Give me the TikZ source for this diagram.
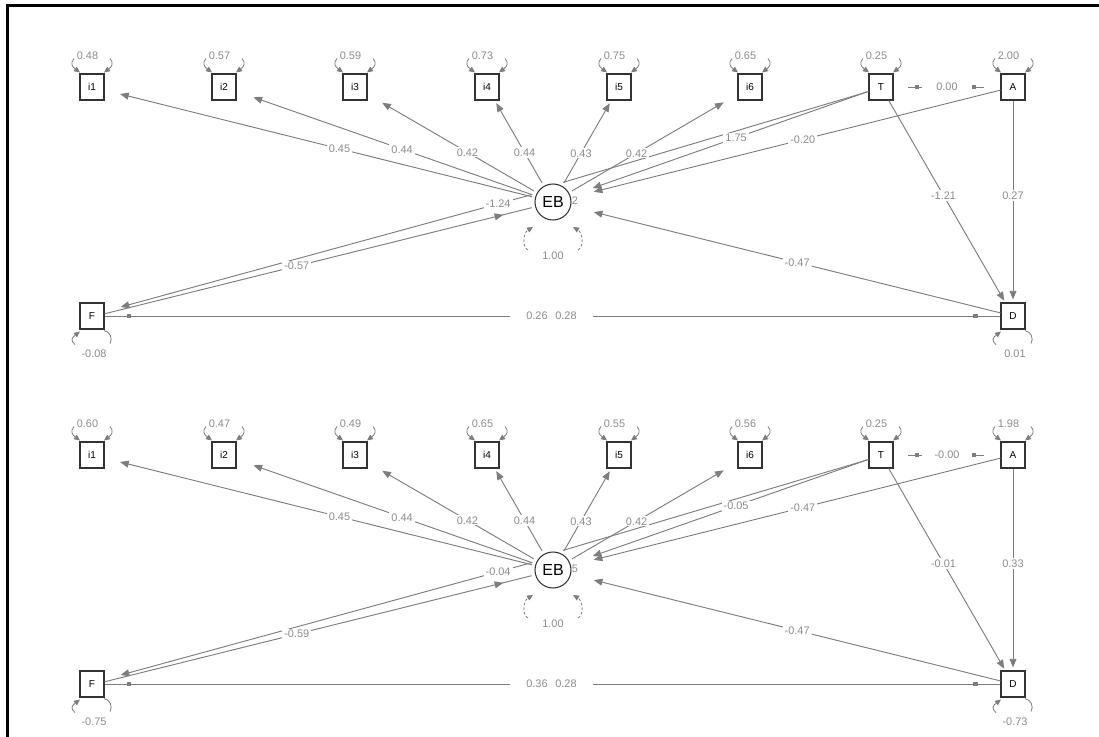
\documentclass[tikz,border=0pt]{standalone}
\usepackage{fontspec}
\setmainfont{Liberation Sans}
\usetikzlibrary{arrows.meta,decorations.markings,calc}
\definecolor{edgegray}{RGB}{125,125,125}
\definecolor{labgray}{RGB}{140,140,140}
\tikzset{
  box/.style={draw=black!80, line width=0.8pt, fill=white, minimum width=18pt, minimum height=19.5pt, inner sep=0pt, font=\fontsize{7.5}{8}\selectfont},
  lat/.style={circle, draw=black!80, line width=0.8pt, fill=white, minimum size=27pt, inner sep=0pt, outer sep=3pt, font=\fontsize{12}{13}\selectfont},
  ghost/.style={circle, minimum size=63pt, inner sep=0pt, outer sep=0pt},
  edge/.style={draw=edgegray, line width=0.7pt},
  arr/.style={-{Triangle[length=6.5pt,width=5.2pt]}},
  lab/.style={fill=white, text=labgray, inner xsep=1.5pt, inner ysep=1pt, font=\fontsize{8.2}{9}\selectfont},
  labt/.style={text=labgray, inner sep=0pt, font=\fontsize{8.2}{9}\selectfont},
  res/.style={draw=edgegray, line width=0.6pt},
  rtip/.style={-{Triangle[length=4.5pt,width=4pt]}},
  midtip/.style={postaction=decorate, decoration={markings, mark=at position #1 with {\arrow{Triangle[length=6.5pt,width=5.2pt]}}}},
  twomarks/.style 2 args={postaction=decorate, decoration={markings,
      mark=at position #1 with {\fill[edgegray] (-1.8pt,-1.2pt) rectangle (1.8pt,1.2pt);},
      mark=at position #2 with {\fill[edgegray] (-1.8pt,-1.2pt) rectangle (1.8pt,1.2pt);}}},
}
% residual hooks above a box
\newcommand\tophook[2]{%
  \draw[res,rtip] ($(#1.north)+(-18,-15)$) .. controls +(-4,5) and +(-8,-6) .. ($(#1.north)+(-12,-1)$);
  \draw[res,rtip] ($(#1.north)+(18,-15)$) .. controls +(4,5) and +(8,-6) .. ($(#1.north)+(12,-1)$);
  \node[labt] at ($(#1.north)+(-4.5,-18)$) {#2};}
% residual hooks below a box
\newcommand\bothook[2]{%
  \draw[res,rtip] ($(#1.south)+(-17,15)$) .. controls +(-5,-4) and +(-8,6) .. ($(#1.south)+(-12,2)$);
  \draw[res] ($(#1.south)+(12,1)$) .. controls +(6,1) and +(3,-5) .. ($(#1.south)+(18,14)$);
  \node[labt] at ($(#1.south)+(2,24)$) {#2};}

\newcommand\SEMpanel[2]{%
\begin{scope}[shift={(0,#2)}]
  \foreach \n/\x in {i1/92,i2/224,i3/355,i4/487,i5/619,i6/750,T/881,A/1013}
    \node[box] (#1\n) at (\x,87) {\n};
  \node[box] (#1F) at (92,316) {F};
  \node[box] (#1D) at (1013,316) {D};
  \node[ghost] (#1EBo) at (553,202) {};
  \node[lat] (#1EB) at (553,202) {EB};
  % loadings
  \draw[edge,arr,shorten >=12pt] (#1EB) -- coordinate[pos=.45] (#1l1) (#1i1);
  \draw[edge,arr,shorten >=13.5pt] (#1EB) -- coordinate[pos=.44] (#1l2) (#1i2);
  \draw[edge,arr,shorten >=12.75pt] (#1EB) -- coordinate[pos=.40] (#1l3) (#1i3);
  \draw[edge,arr,shorten >=2.25pt] (#1EB) -- coordinate[pos=.37] (#1l4) (#1i4);
  \draw[edge,arr,shorten >=2.25pt] (#1EB) -- coordinate[pos=.36] (#1l5) (#1i5);
  \draw[edge,arr,shorten >=12pt] (#1EB) -- coordinate[pos=.39] (#1l6) (#1i6);
  % T -- A
  \draw[edge,shorten <=11pt,shorten >=12pt,twomarks={17.6pt}{-20pt}] (#1T) -- coordinate[pos=.5] (#1lTA) (#1A);
  % to D
  \draw[edge,arr,shorten >=1.5pt] (#1T) -- coordinate[pos=.47] (#1lTD) (#1D);
  \draw[edge,arr,shorten >=2.25pt] (#1A) -- coordinate[pos=.47] (#1lAD) (#1D);
  % to EB
  \draw[edge,arr] (#1D) -- coordinate[pos=.5] (#1lDE) (#1EBo);
  \draw[edge,arr] (#1A) -- coordinate[pos=.486] (#1lAE) (#1EBo);
  \draw[edge,arr] (#1T) -- coordinate[pos=.48] (#1lTE) (#1EBo);
  \draw[edge] (#1EB.63) -- (#1T.200);
  % F pair
  \draw[edge,arr,shorten >=12.5pt] (#1EB.160) -- coordinate[pos=.08] (#1lFEa) (#1F.20);
  \draw[edge,midtip=-22pt] (#1F.10) -- coordinate[pos=.45] (#1lFEb) (#1EB.195);
  % F -- D
  \draw[edge,twomarks={18.4pt}{-19pt}] (#1F) -- (#1D);
  % labels
  \node[lab] at (#1l1) {0.45};
  \node[lab] at (#1l2) {0.44};
  \node[lab] at (#1l3) {0.42};
  \node[lab] at (#1l4) {0.44};
  \node[lab] at (#1l5) {0.43};
  \node[lab] at (#1l6) {0.42};
  \node[lab,minimum width=38pt] at (#1lTA) {\LTA};
  \node[lab] at (#1lTD) {\LTD};
  \node[lab] at (#1lAD) {\LAD};
  \node[lab] at (#1lDE) {\LDE};
  \node[lab] at (#1lAE) {\LAE};
  \node[lab] at (#1lTE) {\LTE};
  \node[labt] at (575,201) {\LTEh};
  \node[lab] at (#1lFEa) {\LFEa};
  \node[lab] at (#1lFEb) {\LFEb};
  \node[fill=white,minimum width=62pt,minimum height=8pt,inner sep=0pt] at (551.5,316) {};
  \node[labt] at (537,316) {\LFDa};
  \node[labt] at (566,316) {\LFDb};
  % residuals
  \tophook{#1i1}{\VarI}
  \tophook{#1i2}{\VarII}
  \tophook{#1i3}{\VarIII}
  \tophook{#1i4}{\VarIV}
  \tophook{#1i5}{\VarV}
  \tophook{#1i6}{\VarVI}
  \tophook{#1T}{\VarT}
  \tophook{#1A}{\VarA}
  \bothook{#1F}{\VarF}
  \bothook{#1D}{\VarD}
  % latent variance (dashed)
  \draw[res,rtip,dash pattern=on 2pt off 1.5pt] ($(#1EB)+(-25,48)$) .. controls +(-6,-3) and +(-10,6) .. ($(#1EB)+(-20,25)$);
  \draw[res,rtip,dash pattern=on 2pt off 1.5pt] ($(#1EB)+(25,48)$) .. controls +(6,-3) and +(10,6) .. ($(#1EB)+(20,25)$);
  \node[labt] at ($(#1EB)+(0,54)$) {1.00};
\end{scope}}

\begin{document}
\begin{tikzpicture}[x=0.75pt,y=-0.75pt]
\useasboundingbox (0,0) rectangle (1099,736);
\fill[white] (0,0) rectangle (1099,736);
\draw[line width=1.9pt] (7.5,5.5) rectangle (1130,770);
% top panel
\def\VarI{0.48}\def\VarII{0.57}\def\VarIII{0.59}\def\VarIV{0.73}\def\VarV{0.75}\def\VarVI{0.65}
\def\VarT{0.25}\def\VarA{2.00}\def\VarF{-0.08}\def\VarD{0.01}
\def\LTA{0.00}\def\LTE{1.75}\def\LTEh{2}\def\LAE{-0.20}\def\LTD{-1.21}\def\LAD{0.27}
\def\LDE{-0.47}\def\LFEa{-1.24}\def\LFEb{-0.57}\def\LFDa{0.26}\def\LFDb{0.28}
\SEMpanel{a}{0}
% bottom panel
\def\VarI{0.60}\def\VarII{0.47}\def\VarIII{0.49}\def\VarIV{0.65}\def\VarV{0.55}\def\VarVI{0.56}
\def\VarT{0.25}\def\VarA{1.98}\def\VarF{-0.75}\def\VarD{-0.73}
\def\LTA{-0.00}\def\LTE{-0.05}\def\LTEh{5}\def\LAE{-0.47}\def\LTD{-0.01}\def\LAD{0.33}
\def\LDE{-0.47}\def\LFEa{-0.04}\def\LFEb{-0.59}\def\LFDa{0.36}\def\LFDb{0.28}
\SEMpanel{b}{368}
\end{tikzpicture}
\end{document}
